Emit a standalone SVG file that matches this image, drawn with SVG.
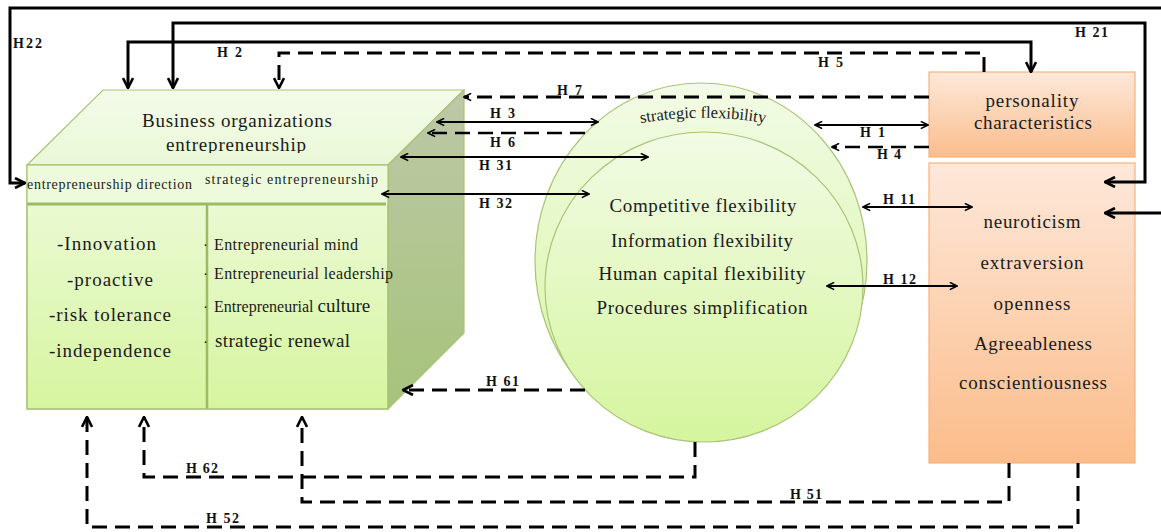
<svg xmlns="http://www.w3.org/2000/svg" width="1161" height="532" viewBox="0 0 1161 532">
<defs>
<linearGradient id="gTop" x1="0" y1="0" x2="0" y2="1"><stop offset="0" stop-color="#f4fbea"/><stop offset="1" stop-color="#eaf8d6"/></linearGradient>
<linearGradient id="gFront" x1="0" y1="0" x2="0" y2="1"><stop offset="0" stop-color="#eefadc"/><stop offset="1" stop-color="#d6f5a0"/></linearGradient>
<linearGradient id="gSide" x1="0" y1="0" x2="0" y2="1"><stop offset="0" stop-color="#bdc8a8"/><stop offset="1" stop-color="#a6c37a"/></linearGradient>
<linearGradient id="gEll" x1="0" y1="0" x2="0" y2="1"><stop offset="0" stop-color="#f2fbe6"/><stop offset="1" stop-color="#d5f59e"/></linearGradient>
<linearGradient id="gOr1" x1="0" y1="0" x2="0" y2="1"><stop offset="0" stop-color="#fde9da"/><stop offset="1" stop-color="#fbbd8c"/></linearGradient>
<linearGradient id="gOr2" x1="0" y1="0" x2="0" y2="1"><stop offset="0" stop-color="#fde8da"/><stop offset="1" stop-color="#fbbc8a"/></linearGradient>
<marker id="ah" markerUnits="userSpaceOnUse" viewBox="0 0 12 12" refX="11" refY="6" markerWidth="12" markerHeight="12" orient="auto-start-reverse">
<path d="M1,1 L11,6 L1,11" fill="none" stroke="#000" stroke-width="2.6"/>
</marker>
<marker id="as" markerUnits="userSpaceOnUse" viewBox="0 0 10 10" refX="9" refY="5" markerWidth="9" markerHeight="9" orient="auto-start-reverse">
<path d="M1,1 L9,5 L1,9" fill="none" stroke="#000" stroke-width="1.8"/>
</marker>
<path id="arcSF" d="M618,128 A355,355 0 0 1 788,128"/>
<clipPath id="clipTop"><rect x="0" y="80" width="470" height="73"/></clipPath>
</defs>
<style>
.t{font-family:"Liberation Serif","Times New Roman",serif;fill:#1a1a1a}
.lb{font-family:"Liberation Serif","Times New Roman",serif;font-weight:bold;font-size:14px;fill:#111}
.c{text-anchor:middle}
.solid{fill:none;stroke:#000;stroke-width:3}
.thin{fill:none;stroke:#000;stroke-width:2}
.dash{fill:none;stroke:#000;stroke-width:3;stroke-dasharray:15 8}
.edge{stroke:#a9c476;stroke-width:1.2}
</style>

<g id="cube">
<polygon points="27,165 103,90 464,90 388,165" fill="url(#gTop)" class="edge"/>
<polygon points="388,165 464,90 464,333 388,409" fill="url(#gSide)" class="edge"/>
<rect x="27" y="165" width="361" height="244" fill="url(#gFront)" class="edge"/>
<rect x="27" y="165" width="361" height="39" fill="#edfadc"/>
<line x1="27" y1="204" x2="386" y2="204" stroke="#9dbb62" stroke-width="3"/>
<line x1="207" y1="204" x2="207" y2="409" stroke="#9dbb62" stroke-width="2.5"/>
<rect x="27" y="165" width="361" height="244" fill="none" class="edge"/>
<g clip-path="url(#clipTop)">
<text class="t c" x="237" y="127" font-size="19" textLength="190">Business organizations</text>
<text class="t c" x="236" y="151" font-size="19" textLength="140">entrepreneurship</text>
</g>
<text class="t" x="27" y="189" font-size="14" textLength="165">entrepreneurship direction</text>
<text class="t" x="205" y="184" font-size="14" textLength="173">strategic entrepreneurship</text>
<text class="t" x="57" y="250" font-size="19" textLength="99">-Innovation</text>
<text class="t" x="67" y="286" font-size="19" textLength="86">-proactive</text>
<text class="t" x="49" y="321" font-size="19" textLength="122">-risk tolerance</text>
<text class="t" x="49" y="357" font-size="19" textLength="122">-independence</text>
<text class="t" x="203" y="250" font-size="15">·</text>
<text class="t" x="203" y="279" font-size="15">·</text>
<text class="t" x="203" y="312" font-size="15">·</text>
<text class="t" x="203" y="347" font-size="15">·</text>
<text class="t" x="214" y="250" font-size="16" textLength="144">Entrepreneurial mind</text>
<text class="t" x="214" y="279" font-size="16" textLength="179">Entrepreneurial leadership</text>
<text class="t" x="214" y="312" font-size="16">Entrepreneurial <tspan font-size="19">culture</tspan></text>
<text class="t" x="215" y="347" font-size="19" textLength="135">strategic renewal</text>
</g>

<g id="strategic-flexibility">
<ellipse cx="701" cy="261" rx="166" ry="178" fill="url(#gEll)" stroke="#a9c476" stroke-width="1.2"/>
<ellipse cx="704" cy="287" rx="159" ry="155" fill="url(#gEll)" stroke="#a9c476" stroke-width="1.2"/>
<text class="t" font-size="16.5"><textPath href="#arcSF" startOffset="50%" text-anchor="middle">strategic flexibility</textPath></text>
<text class="t c" x="703" y="212" font-size="19" textLength="187">Competitive flexibility</text>
<text class="t c" x="702" y="247" font-size="19" textLength="182">Information flexibility</text>
<text class="t c" x="702" y="280" font-size="19" textLength="207">Human capital flexibility</text>
<text class="t c" x="702" y="314" font-size="19" textLength="211">Procedures simplification</text>
</g>

<g id="personality-characteristics">
<rect x="929" y="72" width="206" height="85" fill="url(#gOr1)" stroke="#f7b27a" stroke-width="1.2"/>
<text class="t c" x="1032" y="107" font-size="19" textLength="93">personality</text>
<text class="t c" x="1033" y="129" font-size="19" textLength="118">characteristics</text>
</g>

<g id="big-five">
<rect x="929" y="163" width="206" height="300" fill="url(#gOr2)" stroke="#f7b27a" stroke-width="1.2"/>
<text class="t c" x="1032" y="228" font-size="19" textLength="97">neuroticism</text>
<text class="t c" x="1032" y="269" font-size="19" textLength="103">extraversion</text>
<text class="t c" x="1032" y="310" font-size="19" textLength="77">openness</text>
<text class="t c" x="1033" y="350" font-size="19" textLength="118">Agreeableness</text>
<text class="t c" x="1033" y="389" font-size="19" textLength="148">conscientiousness</text>
</g>

<g id="connectors">
<path class="solid" d="M1161,8 H10 V183 H25" marker-end="url(#ah)"/>
<path class="solid" d="M173,88 V23 H1145 V182 H1105" marker-start="url(#ah)" marker-end="url(#ah)"/>
<path class="solid" d="M128,88 V42 H1031 V72" marker-start="url(#ah)" marker-end="url(#ah)"/>
<path class="dash" d="M984,72 V53 H279 V88" marker-end="url(#ah)"/>
<path class="dash" d="M929,97 H464" marker-end="url(#as)"/>
<path class="thin" d="M437,122 H598" marker-start="url(#as)" marker-end="url(#as)"/>
<path class="dash" style="stroke-width:2.5" d="M585,133 H428" marker-end="url(#as)"/>
<path class="thin" d="M401,157 H648" marker-start="url(#as)" marker-end="url(#as)"/>
<path class="thin" d="M382,194 H589" marker-start="url(#as)" marker-end="url(#as)"/>
<path class="thin" d="M815,125 H928" marker-start="url(#as)" marker-end="url(#as)"/>
<path class="dash" style="stroke-width:2.5" d="M929,147 H832" marker-end="url(#as)"/>
<path class="thin" d="M863,207 H972" marker-start="url(#as)" marker-end="url(#as)"/>
<path class="thin" d="M827,286 H957" marker-start="url(#as)" marker-end="url(#as)"/>
<path class="solid" d="M1161,213 H1105" marker-end="url(#ah)"/>
<path class="dash" d="M585,390 H403" marker-end="url(#ah)"/>
<path class="dash" d="M695,442 V477 H144 V417" marker-end="url(#ah)"/>
<path class="dash" d="M1009,463 V502 H302 V417" marker-end="url(#ah)"/>
<path class="dash" d="M1078,463 V527 H87 V417" marker-end="url(#ah)"/>
<text class="lb" x="13" y="48" textLength="29">H22</text>
<text class="lb" x="217" y="57" textLength="25">H 2</text>
<text class="lb" x="1075" y="37" textLength="33">H 21</text>
<text class="lb" x="818" y="67" textLength="25">H 5</text>
<text class="lb" x="557" y="95" textLength="25">H 7</text>
<text class="lb" x="490" y="118" textLength="25">H 3</text>
<text class="lb" x="490" y="147" textLength="25">H 6</text>
<text class="lb" x="479" y="170" textLength="33">H 31</text>
<text class="lb" x="479" y="208" textLength="33">H 32</text>
<text class="lb" x="860" y="137" textLength="25">H 1</text>
<text class="lb" x="877" y="159" textLength="24">H 4</text>
<text class="lb" x="883" y="204" textLength="32">H 11</text>
<text class="lb" x="883" y="284" textLength="33">H 12</text>
<text class="lb" x="486" y="386" textLength="33">H 61</text>
<text class="lb" x="186" y="473" textLength="32">H 62</text>
<text class="lb" x="790" y="499" textLength="32">H 51</text>
<text class="lb" x="206" y="523" textLength="33">H 52</text>
</g>
</svg>
